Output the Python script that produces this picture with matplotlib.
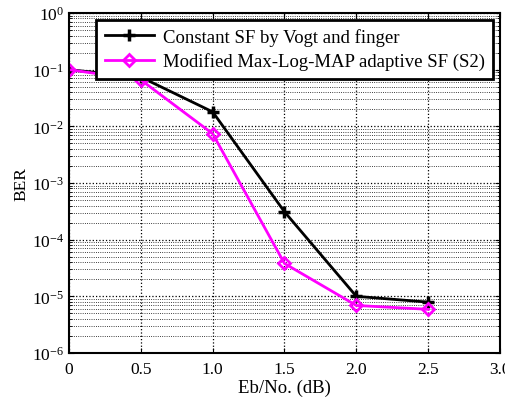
import numpy as np
import matplotlib.pyplot as plt

plt.rcParams['font.family'] = ['Liberation Serif', 'DejaVu Serif']
plt.rcParams['mathtext.fontset'] = 'stix'

ebno = [0, 0.5, 1.0, 1.5, 2.0, 2.5]
ber_const = [0.1, 0.074, 0.018, 3.1e-4, 1.0e-5, 7.9e-6]
ber_mod = [0.1, 0.066, 0.0074, 3.8e-5, 6.9e-6, 5.9e-6]

fig = plt.figure(figsize=(5.06, 4.02), dpi=100)
ax = fig.add_axes([69/506, 1-354/402, 431/506, 340/402])

ax.semilogy(ebno, ber_const, color='black', lw=2, marker='+', ms=8, mew=2.5,
            label='Constant SF by Vogt and finger')
ax.semilogy(ebno, ber_mod, color='#ff00ff', lw=2, marker='D', ms=6, mew=2,
            mfc='none', label='Modified Max-Log-MAP adaptive SF (S2)')

ax.set_xlim(0, 3.0)
ax.set_ylim(1e-6, 1)
ax.set_xticks([0, 0.5, 1.0, 1.5, 2.0, 2.5, 3.0])
ax.set_xticklabels(['0', '0.5', '1.0', '1.5', '2.0', '2.5', '3.0'])
ax.grid(True, which='major', ls=':', color='black', lw=0.9)
ax.grid(True, which='minor', ls=':', color='black', lw=0.6)
ax.tick_params(which='both', direction='in', labelsize=12.5, top=True, right=True)
ax.tick_params(axis='x', pad=6)
for s in ax.spines.values():
    s.set_linewidth(1.5)

ax.set_xlabel('Eb/No. (dB)', fontsize=13.5, labelpad=1)
ax.set_ylabel('BER', fontsize=12.5, labelpad=2)

leg = ax.legend(loc='upper right', fontsize=13.5, fancybox=False, framealpha=1,
                edgecolor='black', borderaxespad=0.35, handlelength=2.6,
                handletextpad=0.5, borderpad=0.45, labelspacing=0.35)
leg.get_frame().set_linewidth(2)

fig.savefig('out.png', dpi=100)
